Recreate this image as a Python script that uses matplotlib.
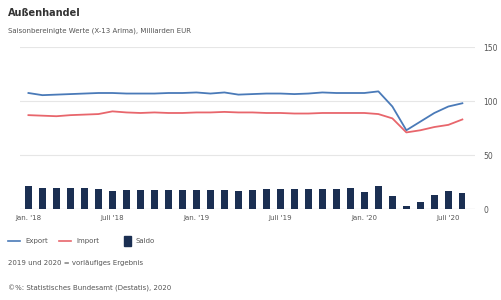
import numpy as np
import matplotlib.pyplot as plt

# monthly values Jan 2018 - Aug 2020, Mrd EUR
months = np.arange(32)
export = [107.5, 105.5, 106, 106.5, 107, 107.5, 107.5, 107, 107, 107, 107.5, 107.5,
          108, 107, 108, 106, 106.5, 107, 107, 106.5, 107, 108, 107.5, 107.5,
          107.5, 109, 95, 73, 81, 89, 95, 98]
imports = [87, 86.5, 86, 87, 87.5, 88, 90.5, 89.5, 89, 89.5, 89, 89,
           89.5, 89.5, 90, 89.5, 89.5, 89, 89, 88.5, 88.5, 89, 89, 89,
           89, 88, 84, 71, 73, 76, 78, 83]
saldo = [21, 19.5, 20, 19.5, 19.5, 18.5, 16.5, 17.5, 17.5, 18, 18, 17.5,
         18, 18, 18, 17, 17.5, 18.5, 19, 18.5, 19, 18.5, 18.5, 20,
         16, 21, 12, 3, 7, 13, 17, 15]
tick_pos = [0, 6, 12, 18, 24, 30]
tick_labels = ["Jan. '18", "Juli '18", "Jan. '19", "Juli '19", "Jan. '20", "Juli '20"]

txt = '#555555'
fig = plt.figure(figsize=(5.01, 3.0), dpi=100)
ax = fig.add_axes([0.04, 0.303, 0.908, 0.54])

ax.bar(months, saldo, width=0.45, color='#1b2f52', zorder=3)
ax.plot(months, export, color='#4a7ab8', lw=1.3, zorder=4)
ax.plot(months, imports, color='#e8666c', lw=1.3, zorder=4)

ax.set_xlim(-0.6, 31.9)
ax.set_ylim(0, 150)
ax.set_yticks([0, 50, 100, 150])
ax.yaxis.tick_right()
ax.tick_params(axis='y', length=0, pad=6, labelsize=5.5, labelcolor=txt)
ax.set_xticks(tick_pos)
ax.set_xticklabels(tick_labels)
ax.tick_params(axis='x', length=0, pad=4, labelsize=5, labelcolor=txt)
ax.grid(axis='y', color='#e6e6e6', lw=0.8, zorder=0)
ax.axhline(0, color='#bbbbbb', lw=0.8, zorder=2)
for s in ax.spines.values():
    s.set_visible(False)

fig.text(0.016, 0.955, 'Außenhandel', fontsize=7, fontweight='bold', color='#333333', va='center')
fig.text(0.016, 0.898, 'Saisonbereinigte Werte (X-13 Arima), Milliarden EUR', fontsize=5, color=txt, va='center')

# legend row
fig.lines.append(plt.Line2D([0.016, 0.04], [0.197, 0.197], color='#4a7ab8', lw=1.2, transform=fig.transFigure))
fig.text(0.05, 0.197, 'Export', fontsize=5, color=txt, va='center')
fig.lines.append(plt.Line2D([0.118, 0.142], [0.197, 0.197], color='#e8666c', lw=1.2, transform=fig.transFigure))
fig.text(0.152, 0.197, 'Import', fontsize=5, color=txt, va='center')
fig.patches.append(plt.Rectangle((0.248, 0.18), 0.014, 0.034, color='#1b2f52', transform=fig.transFigure))
fig.text(0.27, 0.197, 'Saldo', fontsize=5, color=txt, va='center')

fig.text(0.016, 0.123, '2019 und 2020 = vorläufiges Ergebnis', fontsize=5, color=txt, va='center')
fig.text(0.016, 0.037, '©%: Statistisches Bundesamt (Destatis), 2020', fontsize=5, color=txt, va='center')

fig.savefig('out.png', dpi=100)
